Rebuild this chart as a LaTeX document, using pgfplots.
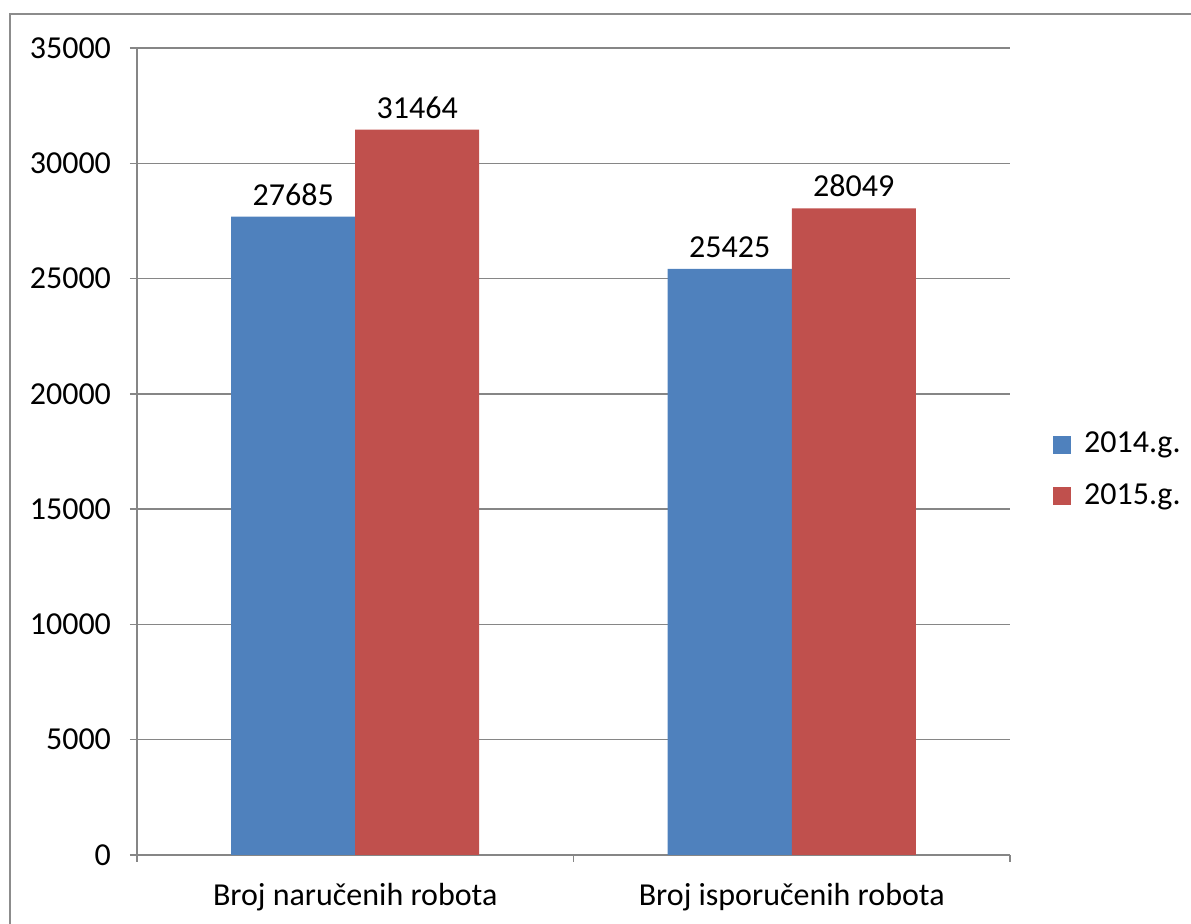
\documentclass[border=0pt]{standalone}
\usepackage{pgfplots}
\pgfplotsset{compat=1.18}
\usepackage{fontspec}
\setmainfont{Carlito}

\definecolor{blue14}{HTML}{4F81BD}
\definecolor{red15}{HTML}{C0504D}
\definecolor{axgray}{HTML}{868686}
\definecolor{framegray}{HTML}{8C8C8C}

\begin{document}
\fontsize{16pt}{19pt}\selectfont
\begin{tikzpicture}
\useasboundingbox (0,0) rectangle (595.5pt,462pt);
% frame of the chart area (cut at right and bottom)
\draw[framegray, line width=1pt] (4.75pt,-2pt) -- (4.75pt,455pt) -- (600pt,455pt);
\begin{axis}[
	at={(68.5pt,34.5pt)}, anchor=south west,
	scale only axis,
	width=436.5pt, height=403.5pt,
	ybar=0pt, bar width=62pt,
	xmin=-0.5, xmax=1.5,
	ymin=0, ymax=35000,
	ytick distance=5000,
	scaled y ticks=false,
	/pgf/number format/assume math mode=true,
	/pgf/number format/1000 sep={},
	xtick={0,1},
	xticklabels={Broj naručenih robota, Broj isporučenih robota},
	major x tick style={draw=none},
	extra x ticks={-0.5,0.5,1.5},
	extra x tick labels={},
	extra x tick style={major x tick style={draw=axgray, line width=0.75pt}},
	axis lines*=left,
	axis line style={axgray, line width=0.75pt},
	tick align=outside,
	major tick length=3.5pt,
	y tick style={axgray, line width=0.75pt},
	ymajorgrids,
	grid style={axgray, line width=0.75pt},
	tick label style={font=\fontsize{16pt}{19pt}\selectfont, black},
	y tick label style={xshift=-4pt},
	x tick label style={yshift=-5pt},
	nodes near coords,
	nodes near coords style={font=\fontsize{16pt}{19pt}\selectfont, black, anchor=south},
	legend style={draw=none, fill=none, at={(1.049,0.4765)}, anchor=west,
		font=\fontsize{16pt}{19pt}\selectfont, row sep=9pt, inner sep=0pt,
		/tikz/every odd column/.append style={column sep=4.5pt}},
	legend cell align=left,
	legend image code/.code={\fill[#1] (0pt,-4.5pt) rectangle (9pt,4.5pt);},
]
\addplot[fill=blue14, draw=none] coordinates {(0,27685) (1,25425)};
\addplot[fill=red15, draw=none] coordinates {(0,31464) (1,28049)};
\legend{2014.g., 2015.g.}
\end{axis}
\end{tikzpicture}
\end{document}
